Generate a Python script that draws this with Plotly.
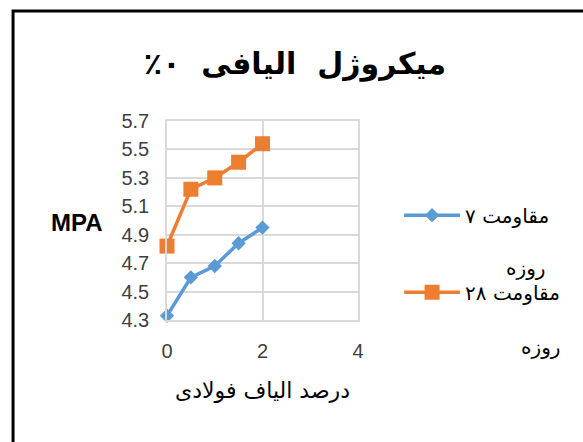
import plotly.graph_objects as go

# Steel-fibre percentage and compressive strength (MPa) at 7 and 28 days
fiber_pct = [0, 0.5, 1, 1.5, 2]
strength_7d = [4.33, 4.60, 4.68, 4.84, 4.95]
strength_28d = [4.82, 5.22, 5.30, 5.41, 5.54]

name_7d = "مقاومت ۷"
name_28d = "مقاومت ۲۸"
name_suffix = "روزه"
title_text = "میکروژل\u00a0 الیافی\u00a0 ۰٪\u200f"
x_title = "درصد الیاف فولادی"
y_title = "MPA"

y_ticks = [4.3, 4.5, 4.7, 4.9, 5.1, 5.3, 5.5, 5.7]
x_ticks = [0, 2, 4]

BLUE = "#5B9BD5"
ORANGE = "#ED7D31"
GRID = "#D9D9D9"
AR_FONT = "DejaVu Sans"
NUM_FONT = "Liberation Sans"

fig = go.Figure()
fig.add_trace(go.Scatter(
    x=fiber_pct, y=strength_7d, name=name_7d, mode="lines+markers",
    line=dict(color=BLUE, width=3.5),
    marker=dict(symbol="diamond", size=11, color=BLUE),
    legendgroup="a", cliponaxis=False,
))
fig.add_trace(go.Scatter(
    x=fiber_pct, y=strength_28d, name=name_28d, mode="lines+markers",
    line=dict(color=ORANGE, width=3.5),
    marker=dict(symbol="square", size=15, color=ORANGE),
    legendgroup="b", cliponaxis=False,
))

fig.update_layout(
    width=583, height=442,
    margin=dict(l=167, r=225, t=121, b=122),
    paper_bgcolor="white", plot_bgcolor="white",
    title=dict(text=title_text, x=0.506, y=0.857, xanchor="center", yanchor="middle",
               font=dict(family=AR_FONT, size=30, color="black", weight="bold")),
    showlegend=True,
    legend=dict(x=1.215, y=0.625, xanchor="left", yanchor="top",
                font=dict(family=AR_FONT, size=20, color="black"),
                tracegroupgap=48, itemwidth=56, bgcolor="rgba(0,0,0,0)"),
    xaxis=dict(range=[0, 4], tickvals=x_ticks, showgrid=True, gridcolor=GRID, gridwidth=1.5,
               zeroline=False, showline=True, linecolor=GRID, linewidth=1.5, mirror=True,
               ticks="", ticklabelstandoff=12,
               tickfont=dict(family=NUM_FONT, size=20, color="#404040"),
               title=dict(text=x_title, standoff=22,
                          font=dict(family=AR_FONT, size=22, color="black"))),
    yaxis=dict(range=[4.3, 5.7], tickvals=y_ticks, tickformat=".1f", showgrid=True,
               gridcolor=GRID, gridwidth=1.5, zeroline=False, showline=True, linecolor=GRID,
               linewidth=1.5, mirror=True, ticks="", ticklabelstandoff=12,
               tickfont=dict(family=NUM_FONT, size=20, color="#404040")),
)

# y-axis unit label, drawn horizontally to the left of the ticks
fig.add_annotation(text=y_title, xref="paper", yref="paper", x=-0.471, y=0.492,
                   xanchor="center", yanchor="middle", showarrow=False,
                   font=dict(family=NUM_FONT, size=24, color="black", weight="bold"))

# wrapped second line of each legend label
fig.add_annotation(text=name_suffix, xref="paper", yref="paper", x=1.99, y=0.261,
                   xanchor="right", yanchor="middle", showarrow=False,
                   font=dict(family=AR_FONT, size=20, color="black"))
fig.add_annotation(text=name_suffix, xref="paper", yref="paper", x=2.068, y=-0.135,
                   xanchor="right", yanchor="middle", showarrow=False,
                   font=dict(family=AR_FONT, size=20, color="black"))

# chart frame (top and left edges visible)
fig.add_shape(type="rect", xref="paper", yref="paper",
              x0=-0.806, y0=-0.75, x1=2.3, y1=1.553,
              line=dict(color="black", width=3), fillcolor="rgba(0,0,0,0)", layer="below")

fig.write_html("out.html")
